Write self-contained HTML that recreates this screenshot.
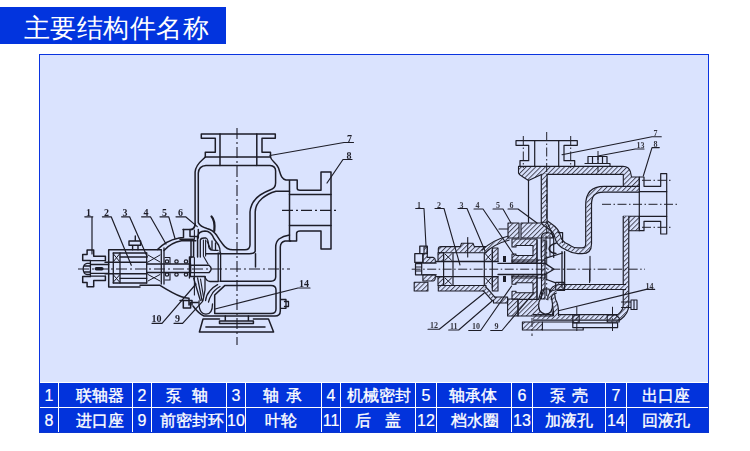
<!DOCTYPE html>
<html><head><meta charset="utf-8">
<style>
html,body{margin:0;padding:0;background:#fff;width:750px;height:451px;overflow:hidden;position:relative;font-family:"Liberation Sans",sans-serif;}
#title{position:absolute;left:0;top:7px;width:226px;height:37px;background:#0234de;}
#title span{position:absolute;left:24px;top:5.5px;font-size:26px;line-height:30px;color:#fff;letter-spacing:0.45px;white-space:nowrap;}
#panel{position:absolute;left:39px;top:54px;width:668px;height:377px;border:1px solid #0a34e0;background:#dae3fe;}
#tbl{position:absolute;left:39px;top:382px;width:670px;height:51px;background:#0233dc;}
.hl{position:absolute;height:1px;background:#fff;}
.vl{position:absolute;width:1px;background:#fff;top:383px;height:49px;}
.c{position:absolute;color:#fff;-webkit-text-stroke:0.2px #fff;font-size:16px;line-height:24px;height:24px;white-space:nowrap;text-align:center;}
.t{position:absolute;color:#fff;-webkit-text-stroke:0.35px #fff;font-size:16px;line-height:24px;height:24px;white-space:nowrap;}
svg{position:absolute;left:0;top:0;will-change:transform;}
</style></head><body>
<div id="title"><span>主要结构件名称</span></div>
<div id="panel"></div>
<svg width="750" height="451" viewBox="0 0 750 451"><defs><pattern id="h" patternUnits="userSpaceOnUse" width="3.4" height="3.4" patternTransform="rotate(45)"><line x1="0.5" y1="0" x2="0.5" y2="3.4" stroke="#3a3a48" stroke-width="0.9"/></pattern></defs><path d="M205.3,157 V152.3 H215.3 V138.3 H201.3 V134.1 H275.3 V138.3 H262 V152.3 H270.5 V157 Z" fill="none" stroke="#1d1d28" stroke-width="1.5" stroke-linejoin="round" stroke-linecap="round"/>
<path d="M220,134 V165.5 M256.8,134 V165.5" fill="none" stroke="#1d1d28" stroke-width="1.5" stroke-linejoin="round" stroke-linecap="round"/>
<path d="M205.3,157 C203,160 196,163 195.1,172 V224 Q195,228.5 191,229.5" fill="none" stroke="#1d1d28" stroke-width="1.5" stroke-linejoin="round" stroke-linecap="round"/>
<path d="M270,165.5 H206 Q198.8,166 198.3,173 V222.6 C200,226 203,227.3 207,228.5 C211,229.5 214,231.5 216.7,235.3 C219,239 221,242 223,244.5 C225,247.5 228,249.8 233,249.8 H245 Q249.8,249.8 250,245 V212 C251,199 262,193 270,190 Q275.6,188.5 275.6,183 V171 Q275.6,166 270,165.5 Z" fill="none" stroke="#1d1d28" stroke-width="1.5" stroke-linejoin="round" stroke-linecap="round"/>
<path d="M270.5,157 C271,161 276,162 278.5,168 C280.5,174 281,179 286,180 H297.2 V188.6 Q297.5,190.2 300,190.2 H321 V172 H331 V249 H321 V231 H300 Q297,231 296.6,233 V241 H289.5 V180.3" fill="none" stroke="#1d1d28" stroke-width="1.5" stroke-linejoin="round" stroke-linecap="round"/>
<path d="M289.5,194.5 H331 M289.5,225.5 H331" fill="none" stroke="#1d1d28" stroke-width="1.5" stroke-linejoin="round" stroke-linecap="round"/>
<path d="M289.5,191.2 H276 C266,194 255.5,201 255.2,212 V251.3 Q254.5,253.8 249.2,253.8 H206" fill="none" stroke="#1d1d28" stroke-width="1.5" stroke-linejoin="round" stroke-linecap="round"/>
<path d="M255.5,253.8 V267" fill="none" stroke="#1d1d28" stroke-width="1.5" stroke-linejoin="round" stroke-linecap="round"/>
<path d="M289.5,235 Q283,236 279,239 Q275.7,242 275.7,247 V277 Q275.5,281.2 271,281.2 H220" fill="none" stroke="#1d1d28" stroke-width="1.5" stroke-linejoin="round" stroke-linecap="round"/>
<path d="M290.6,241 H285 Q280.5,242 280.3,247 V311 Q280.3,316 275,316 H204 C199,314 196,310 193,306" fill="none" stroke="#1d1d28" stroke-width="1.5" stroke-linejoin="round" stroke-linecap="round"/>
<path d="M224.7,285.6 H271 Q276,285.6 276,290 V309 Q276,313.6 271,313.6 H214.7 V295 Z" fill="none" stroke="#1d1d28" stroke-width="1.5" stroke-linejoin="round" stroke-linecap="round"/>
<path d="M281,299.5 H286 V308.3 H281 M284.5,301.5 H288.5 V306.5 H284.5" fill="none" stroke="#1d1d28" stroke-width="1.3" stroke-linejoin="round" stroke-linecap="round"/>
<path d="M225.3,316 V321 M248.4,316 V321 M219.5,321 H253.4 V323.6 H219.5 Z" fill="none" stroke="#1d1d28" stroke-width="1.5" stroke-linejoin="round" stroke-linecap="round"/>
<path d="M219.5,319 H203 L199.4,332 H273.6 L268.5,319 H253.4" fill="none" stroke="#1d1d28" stroke-width="1.5" stroke-linejoin="round" stroke-linecap="round"/>
<path d="M205.9,326.9 H265" fill="none" stroke="#1d1d28" stroke-width="1.5" stroke-linejoin="round" stroke-linecap="round"/>
<path d="M183,229.5 H192 Q195,228 195.1,224" fill="none" stroke="#1d1d28" stroke-width="1.5" stroke-linejoin="round" stroke-linecap="round"/>
<path d="M190,229.5 V236.6 H198" fill="none" stroke="#1d1d28" stroke-width="1.5" stroke-linejoin="round" stroke-linecap="round"/>
<path d="M180,239.3 H193.6 V257 H190.3 V276.6 H205" fill="none" stroke="#1d1d28" stroke-width="1.5" stroke-linejoin="round" stroke-linecap="round"/>
<path d="M180,300.5 H192 V305" fill="none" stroke="#1d1d28" stroke-width="1.5" stroke-linejoin="round" stroke-linecap="round"/>
<path d="M197.6,257 V237 C198,233 200.5,231 205,230.9 C209,231 212,233 214,238.8 L218.5,245 Q220.2,248 220.2,253" fill="none" stroke="#1d1d28" stroke-width="1.5" stroke-linejoin="round" stroke-linecap="round"/>
<path d="M200.3,257 V240 Q201,238 204,238 H206 Q208.5,239 208.7,246.8 Q209,250.4 214.9,250.4 H218" fill="none" stroke="#1d1d28" stroke-width="1.3" stroke-linejoin="round" stroke-linecap="round"/>
<path d="M203.4,240 V256 L208,264 M205.6,240 V256" fill="none" stroke="#1d1d28" stroke-width="1.1" stroke-linejoin="round" stroke-linecap="round"/>
<path d="M212,241 V249.5 M215.5,243 V250" fill="none" stroke="#1d1d28" stroke-width="1.3" stroke-linejoin="round" stroke-linecap="round"/>
<path d="M207,241 L211,250 M200.5,279 L203.5,297 M194.4,230 V239.3 M194.4,257.5 V295" fill="none" stroke="#1d1d28" stroke-width="1.1" stroke-linejoin="round" stroke-linecap="round"/>
<path d="M218.2,253 V281.3 M220.6,253 V281.3" fill="none" stroke="#1d1d28" stroke-width="1.3" stroke-linejoin="round" stroke-linecap="round"/>
<path d="M205,276.6 Q206,281 210,281.5 H218.2" fill="none" stroke="#1d1d28" stroke-width="1.3" stroke-linejoin="round" stroke-linecap="round"/>
<path d="M193.6,278 L200.3,300.5 M197.6,278 L202,300.5 M205,277 V290 L203,300.5" fill="none" stroke="#1d1d28" stroke-width="1.3" stroke-linejoin="round" stroke-linecap="round"/>
<path d="M217.6,284.6 C213,287 210.5,290 209.6,291.2 C207,294 206,297 205.6,300.5 M220,286.5 C216,289 213,292 212,294 C210,297 209,300 208.5,302" fill="none" stroke="#1d1d28" stroke-width="1.3" stroke-linejoin="round" stroke-linecap="round"/>
<path d="M199,301 Q198.5,314 206,314.2 Q212.5,314 212.5,304" fill="none" stroke="#1d1d28" stroke-width="1.3" stroke-linejoin="round" stroke-linecap="round"/>
<path d="M140,285.3 H160 C166,289 172,293 181.5,296.8 C184,297.8 186,298.2 189,298.3 V305 M183.3,301.3 V308 H190.6 V302.6 H198" fill="none" stroke="#1d1d28" stroke-width="1.5" stroke-linejoin="round" stroke-linecap="round"/>
<path d="M157.5,249.5 C163,244 170,240 178,238.3 C180,237.8 182,237.6 183.5,237.6 V229.5" fill="none" stroke="#1d1d28" stroke-width="1.5" stroke-linejoin="round" stroke-linecap="round"/>
<path d="M164,250.5 C168,246 174,242 181.5,240.8 H195.8" fill="none" stroke="#1d1d28" stroke-width="1.5" stroke-linejoin="round" stroke-linecap="round"/>
<path d="M191,240 V257.5 M198.3,229.5 V238" fill="none" stroke="#1d1d28" stroke-width="1.5" stroke-linejoin="round" stroke-linecap="round"/>
<path d="M108.7,249.7 H161.3 M108.7,249.7 V287 H140" fill="none" stroke="#1d1d28" stroke-width="1.5" stroke-linejoin="round" stroke-linecap="round"/>
<path d="M113.3,253 H146.7 M120,257 H146.7 M120,278.3 H146.7 M113.3,283 H146.7" fill="none" stroke="#1d1d28" stroke-width="1.3" stroke-linejoin="round" stroke-linecap="round"/>
<path d="M113.3,253 V283 M120,253 V283 M146.7,253 V283 M161.3,250.5 V284 M164,248 V284 M189.4,257 V278" fill="none" stroke="#1d1d28" stroke-width="1.3" stroke-linejoin="round" stroke-linecap="round"/>
<path d="M105,262.3 H147 M105,273.7 H147 M147,264 H190.6 M147,272.5 H190.6" fill="none" stroke="#1d1d28" stroke-width="1.4" stroke-linejoin="round" stroke-linecap="round"/>
<path d="M113.5,254 L119.5,261.5 M119.5,254 L113.5,261.5 M113.5,275 L119.5,282 M119.5,275 L113.5,282" fill="none" stroke="#1d1d28" stroke-width="1.0" stroke-linejoin="round" stroke-linecap="round"/>
<path d="M148,255 L160,262 M160,255 L148,262 M148,274.5 L160,281 M160,274.5 L148,281" fill="none" stroke="#1d1d28" stroke-width="1.0" stroke-linejoin="round" stroke-linecap="round"/>
<circle cx="167" cy="261.5" r="1.7" fill="none" stroke="#1d1d28" stroke-width="1.2"/>
<circle cx="167" cy="274.5" r="1.7" fill="none" stroke="#1d1d28" stroke-width="1.2"/>
<circle cx="176.5" cy="261.5" r="1.7" fill="none" stroke="#1d1d28" stroke-width="1.2"/>
<circle cx="176.5" cy="274.5" r="1.7" fill="none" stroke="#1d1d28" stroke-width="1.2"/>
<circle cx="186" cy="261.5" r="1.7" fill="none" stroke="#1d1d28" stroke-width="1.2"/>
<circle cx="186" cy="274.5" r="1.7" fill="none" stroke="#1d1d28" stroke-width="1.2"/>
<path d="M165,257.5 H170 V263.5 M165,280 H170 V273.5" fill="none" stroke="#1d1d28" stroke-width="1.1" stroke-linejoin="round" stroke-linecap="round"/>
<path d="M129,241 H140.6 V245.3 H129 Z M132.6,245.3 V249.7 M138,245.3 V249.7 M135.3,236 V241" fill="none" stroke="#1d1d28" stroke-width="1.4" stroke-linejoin="round" stroke-linecap="round"/>
<path d="M82.7,254.5 H87.1 V250.1 H93.7 V256.2 H105.4 V260.6 M82.7,254.5 V260.6 H90.4" fill="none" stroke="#1d1d28" stroke-width="1.5" stroke-linejoin="round" stroke-linecap="round"/>
<path d="M82.7,282.5 H87.1 V286.7 H93.7 V280.6 H105.4 V276.2 M82.7,282.5 V276.6 H90.4" fill="none" stroke="#1d1d28" stroke-width="1.5" stroke-linejoin="round" stroke-linecap="round"/>
<path d="M90.4,260.6 V276.6 M90.4,260.6 H105.3 M90.4,276.2 H105.3 M90.4,264.5 H108.7 M90.4,273.4 H108.7" fill="none" stroke="#1d1d28" stroke-width="1.3" stroke-linejoin="round" stroke-linecap="round"/>
<path d="M90.4,263.4 H87 Q83.2,264 83.2,269 Q83.2,274 87,274.5 H90.4 M84.5,266 H90 M84.5,272 H90" fill="none" stroke="#1d1d28" stroke-width="1.3" stroke-linejoin="round" stroke-linecap="round"/>
<rect x="94.6" y="267" width="9" height="3.4" rx="1.7" fill="#1d1d28"/>
<path d="M190.6,265.3 H209 Q213.3,268.9 209,272.6 H190.6 Z" fill="none" stroke="#1d1d28" stroke-width="1.4" stroke-linejoin="round" stroke-linecap="round"/>
<path d="M211.5,216.5 C214,219 215,224 214.3,231" fill="none" stroke="#1d1d28" stroke-width="2.2" stroke-linecap="round"/>
<path d="M84.8,216.8 H92.8 M92,216.8 V254" fill="none" stroke="#1d1d28" stroke-width="1.2" stroke-linejoin="round" stroke-linecap="round"/>
<path d="M102.4,216.8 H111.2 L131.3,265.3" fill="none" stroke="#1d1d28" stroke-width="1.2" stroke-linejoin="round" stroke-linecap="round"/>
<path d="M121.6,216.8 H129.6 L147.3,257" fill="none" stroke="#1d1d28" stroke-width="1.2" stroke-linejoin="round" stroke-linecap="round"/>
<path d="M141.6,216.8 H150.4 L166,244" fill="none" stroke="#1d1d28" stroke-width="1.2" stroke-linejoin="round" stroke-linecap="round"/>
<path d="M160,216.8 H168.8 L175,238.5" fill="none" stroke="#1d1d28" stroke-width="1.2" stroke-linejoin="round" stroke-linecap="round"/>
<path d="M176,216.8 H185.6 L197.3,226.6" fill="none" stroke="#1d1d28" stroke-width="1.2" stroke-linejoin="round" stroke-linecap="round"/>
<path d="M152,323.3 H162 L196,284" fill="none" stroke="#1d1d28" stroke-width="1.2" stroke-linejoin="round" stroke-linecap="round"/>
<path d="M174,323.3 H182.6 L202.6,301.3" fill="none" stroke="#1d1d28" stroke-width="1.2" stroke-linejoin="round" stroke-linecap="round"/>
<path d="M353.5,142.5 H344 L270,155.5" fill="none" stroke="#1d1d28" stroke-width="1.2" stroke-linejoin="round" stroke-linecap="round"/>
<path d="M352,159.5 H343 L327,183" fill="none" stroke="#1d1d28" stroke-width="1.2" stroke-linejoin="round" stroke-linecap="round"/>
<path d="M310,288 H298 L215,309" fill="none" stroke="#1d1d28" stroke-width="1.2" stroke-linejoin="round" stroke-linecap="round"/>
<path d="M237,128 V345" fill="none" stroke="#1d1d28" stroke-width="1.1" stroke-dasharray="11,3,2,3"/>
<path d="M282,210.4 H337" fill="none" stroke="#1d1d28" stroke-width="1.1" stroke-dasharray="11,3,2,3"/>
<path d="M78,269 H290" fill="none" stroke="#1d1d28" stroke-width="1.1" stroke-dasharray="11,3,2,3"/>
<g font-family="Liberation Serif" font-size="10" font-weight="bold" fill="#1d1d28"><text x="86" y="216">1</text><text x="104" y="216">2</text><text x="122.5" y="216">3</text><text x="143.5" y="216">4</text><text x="162" y="216">5</text><text x="178" y="216">6</text><text x="347" y="141.5">7</text><text x="346.5" y="158.5">8</text><text x="151.5" y="322">10</text><text x="175" y="322">9</text><text x="299" y="286.5">14</text></g><path d="M520,166.4 V160.7 H528.7 V145.3 H516 V140.7 H577.3 V145.3 H564 V160.7 H574.7 V166.4" fill="none" stroke="#1d1d28" stroke-width="1.2" stroke-linejoin="round" stroke-linecap="round"/>
<path d="M534.7,140.7 V166.4 M558.7,140.7 V166.4" fill="none" stroke="#1d1d28" stroke-width="1.2" stroke-linejoin="round" stroke-linecap="round"/>
<path d="M588,156.5 H607 V163.5 H588 Z M592.5,156.5 V163.5 M598,156.5 V163.5 M602.5,156.5 V163.5 M585,163.5 H610 V166.4" fill="none" stroke="#1d1d28" stroke-width="1.2" stroke-linejoin="round" stroke-linecap="round"/>
<path d="M518.5,166.4 H623 Q629,166.4 630.5,172 L631.5,177 H639.3 V191.7 H623.3 V174.4 H547 L541.4,174.4 L528.5,180.5 L523,177 Q519,175 518.5,173 Z" fill="url(#h)" stroke="#1d1d28" stroke-width="1.1" stroke-linejoin="round"/>
<path d="M544.2,174 V222 C548,226 556,228 557.5,236 C558.5,242 562,245 567,247 C570,248.5 572,250.8 578,250.8 H582 Q588.6,250.8 588.6,244 V205 C588.6,195 592,189.2 604,189.2 H639.3" stroke="#1d1d28" stroke-width="7.00" fill="none" stroke-linejoin="round"/>
<path d="M544.2,174 V222 C548,226 556,228 557.5,236 C558.5,242 562,245 567,247 C570,248.5 572,250.8 578,250.8 H582 Q588.6,250.8 588.6,244 V205 C588.6,195 592,189.2 604,189.2 H639.3" stroke="#dae3fe" stroke-width="4.60" fill="none" stroke-linejoin="round"/>
<path d="M544.2,174 V222 C548,226 556,228 557.5,236 C558.5,242 562,245 567,247 C570,248.5 572,250.8 578,250.8 H582 Q588.6,250.8 588.6,244 V205 C588.6,195 592,189.2 604,189.2 H639.3" stroke="url(#h)" stroke-width="4.60" fill="none" stroke-linejoin="round"/>
<path d="M528.5,180 V222.3" fill="none" stroke="#1d1d28" stroke-width="1.2" stroke-linejoin="round" stroke-linecap="round"/>
<path d="M639.3,177 H644 V186.3 H660.7 V173.7 H666.7 V234 H660.7 V221.3 H644 V230.7 H639.3 Z" fill="none" stroke="#1d1d28" stroke-width="1.2" stroke-linejoin="round" stroke-linecap="round"/>
<path d="M639.3,191.7 H666.7 M639.3,216.3 H666.7" fill="none" stroke="#1d1d28" stroke-width="1.2" stroke-linejoin="round" stroke-linecap="round"/>
<path d="M623.3,216.3 H639.3 V230.7 H628.7 V222 Z" fill="url(#h)" stroke="#1d1d28" stroke-width="1.1" stroke-linejoin="round"/>
<path d="M626,216.3 V305 Q626,312 619,317.3 H533" stroke="#1d1d28" stroke-width="6.70" fill="none" stroke-linejoin="round"/>
<path d="M626,216.3 V305 Q626,312 619,317.3 H533" stroke="#dae3fe" stroke-width="4.30" fill="none" stroke-linejoin="round"/>
<path d="M626,216.3 V305 Q626,312 619,317.3 H533" stroke="url(#h)" stroke-width="4.30" fill="none" stroke-linejoin="round"/>
<path d="M626,287 H560 Q553,287.5 552,293 L553,300 Q556,305 556,312 V316" stroke="#1d1d28" stroke-width="6.20" fill="none" stroke-linejoin="round"/>
<path d="M626,287 H560 Q553,287.5 552,293 L553,300 Q556,305 556,312 V316" stroke="#dae3fe" stroke-width="3.80" fill="none" stroke-linejoin="round"/>
<path d="M626,287 H560 Q553,287.5 552,293 L553,300 Q556,305 556,312 V316" stroke="url(#h)" stroke-width="3.80" fill="none" stroke-linejoin="round"/>
<path d="M518,299.5 H538.5 L541.5,290 H549 Q547,295 549,297 L553,316 H534 L530,316 H518 Z" fill="url(#h)" stroke="#1d1d28" stroke-width="1.1" stroke-linejoin="round"/>
<path d="M544,289 Q542,296 539,302 Q537,312 545,314.2 Q553,314 552.5,304 Q552,297 549,289 Z" fill="#dae3fe" stroke="#1d1d28" stroke-width="1.2" stroke-linejoin="round"/>
<path d="M507.6,299 H518 V316 H507.6 Z" fill="url(#h)" stroke="#1d1d28" stroke-width="1.1" stroke-linejoin="round"/>
<path d="M493.5,297 H507.6 V303 H493.5 Z" fill="url(#h)" stroke="#1d1d28" stroke-width="1.1" stroke-linejoin="round"/>
<path d="M621.5,302 H631 V307.5 H621.5 M631,300 H637 V309.5 H631 Z M634,300 V309.5" fill="none" stroke="#1d1d28" stroke-width="1.1" stroke-linejoin="round" stroke-linecap="round"/>
<path d="M522.4,322 H542.4 V330 H522.4 Z" fill="url(#h)" stroke="#1d1d28" stroke-width="1.1" stroke-linejoin="round"/>
<path d="M572.8,315 H579.2 V322.8 H572.8 Z" fill="url(#h)" stroke="#1d1d28" stroke-width="1.1" stroke-linejoin="round"/>
<path d="M607.2,315 H616 L619.2,318 V322 H607.2 Z" fill="url(#h)" stroke="#1d1d28" stroke-width="1.1" stroke-linejoin="round"/>
<path d="M542.4,322 H572.8 M572.8,322.8 H617.6 V327.6 H572.8 Z M542.4,330 H583.2 V327.6" fill="none" stroke="#1d1d28" stroke-width="1.2" stroke-linejoin="round" stroke-linecap="round"/>
<path d="M438.3,249 Q438.3,246.6 441,246.6 H460.3 L461.5,243.3 H473 L474.3,246.6 H486 V252.7 H438.3 Z" fill="url(#h)" stroke="#1d1d28" stroke-width="1.1" stroke-linejoin="round"/>
<path d="M483,252 C488,247 495,241.5 509,238" stroke="#1d1d28" stroke-width="5.40" fill="none" stroke-linejoin="round"/>
<path d="M483,252 C488,247 495,241.5 509,238" stroke="#dae3fe" stroke-width="3.00" fill="none" stroke-linejoin="round"/>
<path d="M483,252 C488,247 495,241.5 509,238" stroke="url(#h)" stroke-width="3.00" fill="none" stroke-linejoin="round"/>
<path d="M438.3,285.5 H486 V291 H438.3 Z" fill="url(#h)" stroke="#1d1d28" stroke-width="1.1" stroke-linejoin="round"/>
<path d="M484,288.5 C487,291 490,295 494,299.5" stroke="#1d1d28" stroke-width="5.60" fill="none" stroke-linejoin="round"/>
<path d="M484,288.5 C487,291 490,295 494,299.5" stroke="#dae3fe" stroke-width="3.20" fill="none" stroke-linejoin="round"/>
<path d="M484,288.5 C487,291 490,295 494,299.5" stroke="url(#h)" stroke-width="3.20" fill="none" stroke-linejoin="round"/>
<path d="M438,252.7 H443.6 V261.5 H438 Z" fill="url(#h)" stroke="#1d1d28" stroke-width="1.1" stroke-linejoin="round"/>
<path d="M438,276.6 H443.6 V285.5 H438 Z" fill="url(#h)" stroke="#1d1d28" stroke-width="1.1" stroke-linejoin="round"/>
<path d="M467.7,237.6 V257" fill="none" stroke="#1d1d28" stroke-width="1.1" stroke-linejoin="round" stroke-linecap="round"/>
<path d="M443.6,252.7 V285.5 M453,252.7 V285.5 M484.3,252.7 V285.5 M492.3,250 V288" fill="none" stroke="#1d1d28" stroke-width="1.2" stroke-linejoin="round" stroke-linecap="round"/>
<path d="M445,254 L451.5,260.2 M451.5,254 L445,260.2 M445,278 L451.5,284.2 M451.5,278 L445,284.2" fill="none" stroke="#1d1d28" stroke-width="1.0" stroke-linejoin="round" stroke-linecap="round"/>
<path d="M485.5,254 L491,260.2 M491,254 L485.5,260.2 M485.5,278 L491,284.2 M491,278 L485.5,284.2" fill="none" stroke="#1d1d28" stroke-width="1.0" stroke-linejoin="round" stroke-linecap="round"/>
<path d="M492.3,248 H498 V261.5 H492.3 Z" fill="url(#h)" stroke="#1d1d28" stroke-width="1.1" stroke-linejoin="round"/>
<path d="M492.3,276.6 H498 V291 H492.3 Z" fill="url(#h)" stroke="#1d1d28" stroke-width="1.1" stroke-linejoin="round"/>
<path d="M436.3,261.5 H498 M436.3,276.6 H498" fill="none" stroke="#1d1d28" stroke-width="1.3" stroke-linejoin="round" stroke-linecap="round"/>
<path d="M498,263.4 H545 L554,269.2 L545,274.5 H498" fill="none" stroke="#1d1d28" stroke-width="1.3" stroke-linejoin="round" stroke-linecap="round"/>
<path d="M512,260 H545 V263.4 H512 Z" fill="url(#h)" stroke="#1d1d28" stroke-width="1.1" stroke-linejoin="round"/>
<path d="M512,274.5 H545 V278 H512 Z" fill="url(#h)" stroke="#1d1d28" stroke-width="1.1" stroke-linejoin="round"/>
<path d="M419.8,246.2 H427.3 V253.7 H419.8 Z M414.8,253.7 H422.9 V262.4 H414.8 Z" fill="none" stroke="#1d1d28" stroke-width="1.3" stroke-linejoin="round" stroke-linecap="round"/>
<path d="M424,247 H427.3 V257.4 H433 Q435.3,258 435.3,260 V263 H422.9 V253.7 H424 Z" fill="url(#h)" stroke="#1d1d28" stroke-width="1.1" stroke-linejoin="round"/>
<path d="M422.9,274.8 H435.3 V278 Q435,281 433,281 H422.9 Z" fill="url(#h)" stroke="#1d1d28" stroke-width="1.1" stroke-linejoin="round"/>
<path d="M414.2,282.2 H427.9 V291 H414.2 Z" fill="url(#h)" stroke="#1d1d28" stroke-width="1.1" stroke-linejoin="round"/>
<path d="M415.5,263.6 H421.7 V274.8 H415.5 Z M415.5,267 H421.7 M415.5,271 H421.7 M421.7,263 H436.3 M421.7,274.8 H436.3" fill="none" stroke="#1d1d28" stroke-width="1.2" stroke-linejoin="round" stroke-linecap="round"/>
<path d="M508,223 H519 V238 H508 Z" fill="url(#h)" stroke="#1d1d28" stroke-width="1.1" stroke-linejoin="round"/>
<path d="M521,223 H541.4 V222.3 H547 Q552,232 553,238 H521 Z" fill="url(#h)" stroke="#1d1d28" stroke-width="1.1" stroke-linejoin="round"/>
<path d="M512,239 H537 V262 H512 V254 H516 V255.5 H533 V245.5 H516 V247 H512 Z" fill="url(#h)" stroke="#1d1d28" stroke-width="1.1" stroke-linejoin="round"/>
<path d="M512,299.2 H537 V276.2 H512 V284.2 H516 V282.7 H533 V292.7 H516 V291.2 H512 Z" fill="url(#h)" stroke="#1d1d28" stroke-width="1.1" stroke-linejoin="round"/>
<path d="M541.5,240 H545 V299 H541.5 Z" fill="url(#h)" stroke="#1d1d28" stroke-width="1.1" stroke-linejoin="round"/>
<path d="M537,240 V299" fill="none" stroke="#1d1d28" stroke-width="1.1" stroke-linejoin="round" stroke-linecap="round"/>
<path d="M541.3,257.5 V238 Q541.3,232.6 547,232.6 Q553.7,232.6 553.7,238 V257.5" fill="none" stroke="#1d1d28" stroke-width="1.2" stroke-linejoin="round" stroke-linecap="round"/>
<path d="M546,236 V256 M550,236 V256" fill="none" stroke="#1d1d28" stroke-width="1.0" stroke-linejoin="round" stroke-linecap="round"/>
<path d="M556.4,243 Q549,245 549,249 Q550,253 556,253.5" fill="none" stroke="#1d1d28" stroke-width="1.3" stroke-linejoin="round" stroke-linecap="round"/>
<path d="M558,232.6 H562.6 V242.4" fill="none" stroke="#1d1d28" stroke-width="1.2" stroke-linejoin="round" stroke-linecap="round"/>
<path d="M544.9,258.4 L562.6,253 M546,279.3 L555.7,282.9" fill="none" stroke="#1d1d28" stroke-width="1.2" stroke-linejoin="round" stroke-linecap="round"/>
<path d="M555.7,282.4 H564.6 V290.4 H555.7 Z" fill="url(#h)" stroke="#1d1d28" stroke-width="1.1" stroke-linejoin="round"/>
<path d="M549.5,300 Q549,292 556.5,291.5" stroke="#1d1d28" stroke-width="4.70" fill="none" stroke-linejoin="round"/>
<path d="M549.5,300 Q549,292 556.5,291.5" stroke="#dae3fe" stroke-width="2.30" fill="none" stroke-linejoin="round"/>
<path d="M549.5,300 Q549,292 556.5,291.5" stroke="url(#h)" stroke-width="2.30" fill="none" stroke-linejoin="round"/>
<path d="M562,251.6 V287.5 M564.6,251.6 V287.5" fill="none" stroke="#1d1d28" stroke-width="1.3" stroke-linejoin="round" stroke-linecap="round"/>
<path d="M590,256.3 V281 M589.6,270 V282.4" fill="none" stroke="#1d1d28" stroke-width="1.1" stroke-linejoin="round" stroke-linecap="round"/>
<rect x="503" y="256" width="3" height="6" fill="#1d1d28"/>
<rect x="503" y="276" width="3" height="6" fill="#1d1d28"/>
<path d="M415.7,208.5 H424 L426,246" fill="none" stroke="#1d1d28" stroke-width="1.1" stroke-linejoin="round" stroke-linecap="round"/>
<path d="M435,208.5 H444 L460,265" fill="none" stroke="#1d1d28" stroke-width="1.1" stroke-linejoin="round" stroke-linecap="round"/>
<path d="M458,208.5 H467 L485,251" fill="none" stroke="#1d1d28" stroke-width="1.1" stroke-linejoin="round" stroke-linecap="round"/>
<path d="M474,209 H483 L514,255" fill="none" stroke="#1d1d28" stroke-width="1.1" stroke-linejoin="round" stroke-linecap="round"/>
<path d="M493,209 H503 L511,223" fill="none" stroke="#1d1d28" stroke-width="1.1" stroke-linejoin="round" stroke-linecap="round"/>
<path d="M508,209 H518 L537,223" fill="none" stroke="#1d1d28" stroke-width="1.1" stroke-linejoin="round" stroke-linecap="round"/>
<path d="M661.3,136.7 H652 L562,154.7" fill="none" stroke="#1d1d28" stroke-width="1.1" stroke-linejoin="round" stroke-linecap="round"/>
<path d="M644,149 H635.3 L598,156" fill="none" stroke="#1d1d28" stroke-width="1.1" stroke-linejoin="round" stroke-linecap="round"/>
<path d="M659.3,147.6 H652 L643.3,176" fill="none" stroke="#1d1d28" stroke-width="1.1" stroke-linejoin="round" stroke-linecap="round"/>
<path d="M654.7,289.4 H646.2 L558.4,310.8" fill="none" stroke="#1d1d28" stroke-width="1.1" stroke-linejoin="round" stroke-linecap="round"/>
<path d="M428,329.3 H439.3 L484,293.3" fill="none" stroke="#1d1d28" stroke-width="1.1" stroke-linejoin="round" stroke-linecap="round"/>
<path d="M448.7,330 H458.7 L493.3,300" fill="none" stroke="#1d1d28" stroke-width="1.1" stroke-linejoin="round" stroke-linecap="round"/>
<path d="M468.7,330.5 H480.7 L511.6,286" fill="none" stroke="#1d1d28" stroke-width="1.1" stroke-linejoin="round" stroke-linecap="round"/>
<path d="M490.7,330.5 H502 L534,292.4" fill="none" stroke="#1d1d28" stroke-width="1.1" stroke-linejoin="round" stroke-linecap="round"/>
<path d="M499,229 H508" fill="none" stroke="#1d1d28" stroke-width="1.1" stroke-linejoin="round" stroke-linecap="round"/>
<path d="M546.7,132 V300" fill="none" stroke="#22222c" stroke-width="1.0" stroke-dasharray="9,2.5,1.5,2.5"/>
<path d="M523.3,136 V168 M570.7,136 V168 M598,151 V172" fill="none" stroke="#22222c" stroke-width="1.0" stroke-dasharray="9,2.5,1.5,2.5"/>
<path d="M602,204.3 H679 M642,180.3 H673 M642,227.3 H673" fill="none" stroke="#22222c" stroke-width="1.0" stroke-dasharray="9,2.5,1.5,2.5"/>
<path d="M411.7,269.2 H645" fill="none" stroke="#22222c" stroke-width="1.0" stroke-dasharray="9,2.5,1.5,2.5"/>
<path d="M576.8,306.8 V331 M612.5,306.8 V331 M532,318 V336" fill="none" stroke="#22222c" stroke-width="1.0" stroke-dasharray="9,2.5,1.5,2.5"/>
<g font-family="Liberation Serif" font-size="8" font-weight="bold" fill="#34343e"><text x="417" y="207.5">1</text><text x="437" y="207.5">2</text><text x="459.5" y="207.5">3</text><text x="475.5" y="208">4</text><text x="496" y="208">5</text><text x="509.5" y="208">6</text><text x="653.5" y="135.5">7</text><text x="636.5" y="148">13</text><text x="653.5" y="146.5">8</text><text x="645.5" y="288.5">14</text><text x="430" y="328">12</text><text x="450" y="328.5">11</text><text x="472" y="329">10</text><text x="494.5" y="329">9</text></g></svg>
<div id="tbl"></div>
<div class="hl" style="left:40px;top:382px;width:668px"></div>
<div class="hl" style="left:40px;top:407px;width:668px"></div>
<div style="position:absolute;left:39px;top:382px;width:1px;height:51px;background:#0a36d0"></div>
<div style="position:absolute;left:708px;top:382px;width:1px;height:51px;background:#0a36d0"></div>
<div style="position:absolute;left:39px;top:432px;width:670px;height:1px;background:#0a36d0"></div>
<div class="vl" style="left:58px"></div><div class="vl" style="left:132px"></div><div class="vl" style="left:151px"></div><div class="vl" style="left:226px"></div><div class="vl" style="left:245px"></div><div class="vl" style="left:321px"></div><div class="vl" style="left:340px"></div><div class="vl" style="left:415px"></div><div class="vl" style="left:436px"></div><div class="vl" style="left:511px"></div><div class="vl" style="left:532px"></div><div class="vl" style="left:605px"></div><div class="vl" style="left:626px"></div>
<div class="c" style="left:40.00px;top:384px;width:18px">1</div>
<div class="t" style="left:76.30px;top:384px">联轴器</div>
<div class="c" style="left:133.00px;top:384px;width:18px">2</div>
<div class="t" style="left:166.10px;top:384px">泵</div>
<div class="t" style="left:191.50px;top:384px">轴</div>
<div class="c" style="left:227.00px;top:384px;width:18px">3</div>
<div class="t" style="left:262.50px;top:384px">轴</div>
<div class="t" style="left:285.50px;top:384px">承</div>
<div class="c" style="left:322.00px;top:384px;width:18px">4</div>
<div class="t" style="left:346.50px;top:384px">机械密封</div>
<div class="c" style="left:416.00px;top:384px;width:20px">5</div>
<div class="t" style="left:448.50px;top:384px">轴承体</div>
<div class="c" style="left:512.00px;top:384px;width:20px">6</div>
<div class="t" style="left:549.50px;top:384px">泵</div>
<div class="t" style="left:571.50px;top:384px">壳</div>
<div class="c" style="left:606.00px;top:384px;width:20px">7</div>
<div class="t" style="left:641.50px;top:384px">出口座</div>
<div class="c" style="left:40.00px;top:409px;width:18px">8</div>
<div class="t" style="left:76.30px;top:409px">进口座</div>
<div class="c" style="left:133.00px;top:409px;width:18px">9</div>
<div class="t" style="left:159.50px;top:409px">前密封环</div>
<div class="c" style="left:227.00px;top:409px;width:18px">10</div>
<div class="t" style="left:264.50px;top:409px">叶轮</div>
<div class="c" style="left:322.00px;top:409px;width:18px">11</div>
<div class="t" style="left:354.50px;top:409px">后</div>
<div class="t" style="left:384.50px;top:409px">盖</div>
<div class="c" style="left:416.00px;top:409px;width:20px">12</div>
<div class="t" style="left:450.50px;top:409px">档水圈</div>
<div class="c" style="left:512.00px;top:409px;width:20px">13</div>
<div class="t" style="left:544.50px;top:409px">加液孔</div>
<div class="c" style="left:606.00px;top:409px;width:20px">14</div>
<div class="t" style="left:641.50px;top:409px">回液孔</div>
</body></html>
